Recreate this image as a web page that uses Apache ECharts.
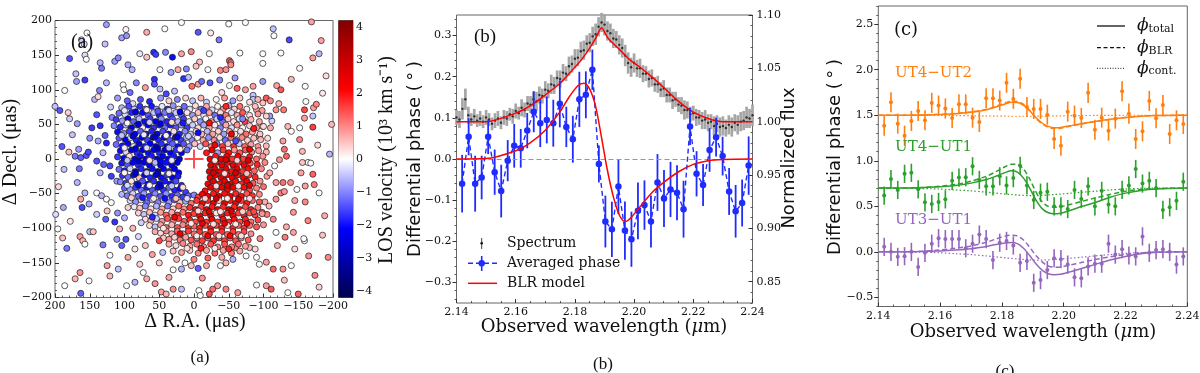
<!DOCTYPE html>
<html>
<head>
<meta charset="utf-8">
<script src="https://cdn.jsdelivr.net/npm/echarts@6/dist/echarts.min.js"></script>
<style>
html,body{margin:0;padding:0;background:#fff}
#chart{width:1200px;height:373px}
</style>
</head>
<body>
<div id="chart"></div>
<script>
// ---------------- panel (a): BLR cloud map ----------------
// [dRA (uas), dDecl (uas), LOS velocity (1e3 km/s)]
var cloudPoints = [
[126,194,-0.8],[98,187,0.1],[68,183,0.7],[42,188,0],[18,197,0],[-6,183,-1.4],[-24,182,0.2],[-36,172,-1.1],[-50,195,0],[-74,197,0],[-114,188,-0.5],[-115,178,0],[-137,172,-1.5],[-169,198,0.8],[-183,171,0.8],[154,182,0],[162,172,-0.4],[158,166,-0.3],[104,175,-0.8],[97,178,-0.9],[179,145,-1.4],[157,150,-0.3],[155,144,0],[128,166,-0.5],[170,123,-0.5],[169,112,-0.8],[157,114,-1.6],[135,139,-0.6],[114,141,-0.8],[109,146,-1.0],[78,152,-0.2],[68,147,0.5],[58,154,-1.7],[55,151,-1.6],[41,154,-1.0],[31,147,-2.0],[18,152,0.8],[4,155,1.0],[-8,140,0.5],[-22,152,0],[-51,142,1.4],[-53,139,1.0],[-66,153,0],[-99,152,0],[-99,138,0],[-125,153,0],[-180,152,-0.6],[-171,146,0.8],[-152,131,0],[133,131,-1.1],[95,136,-0.7],[89,129,-0.6],[49,129,0],[33,125,-0.8],[23,129,0.7],[11,130,-1.0],[-3,134,0.5],[-20,129,0],[-38,128,1.0],[-46,129,0.9],[-53,136,1.0],[186,99,0],[136,99,-1.0],[126,110,-0.6],[102,107,0],[101,100,0],[83,110,-1.0],[70,103,0.8],[57,115,-1.7],[57,108,-1.4],[49,101,-0.5],[15,116,-1.7],[8,118,-0.5],[3,105,1.2],[-6,108,0.8],[-11,112,-1.2],[-23,110,-1.4],[-37,114,-1.0],[-51,106,0],[-59,117,-0.8],[-74,100,0.8],[-62,102,1.3],[-99,112,-0.8],[-119,106,0.8],[-125,100,1.4],[-160,105,0],[-161,83,0],[-85,105,0.8],[-85,92,-0.5],[-40,96,0.3],[28,98,-0.5],[40,94,-1.5],[92,96,-1.2],
[200,76,-0.5],[193,70,-1.4],[181,67,0.4],[179,58,-0.4],[168,51,-0.8],[190,18,-1.4],[187,-15,-0.5],[180,10,0.5],[166,14,-0.8],[171,4,-1.1],[163,2,-1.3],[155,5,-1.4],[152,10,-1.5],[165,-14,-1.1],[168,-34,-0.6],[157,-49,-0.6],[163,-58,0.7],[161,-70,-1.5],[151,-65,-0.7],[188,-70,-0.7],[199,-80,-0.3],[196,-101,0],[189,-114,0.5],[183,-129,-1.1],[164,-112,0.8],[160,-118,0.6],[157,-123,0],[150,-105,-0.5],[145,-105,0.5],[186,-183,0],[171,-173,0.6],[164,-164,0.9],[151,-176,0],[163,-194,-1.3],[143,86,-0.6],[138,90,0.3],[140,64,-1.4],[147,45,-1.6],[135,48,-1.7],[128,34,-1.3],[138,26,-0.7],[126,23,-1.8],[131,9,-0.5],[140,-3,-1.4],[130,-8,-1.3],[121,-10,-1.5],[135,-20,-0.6],[119,-25,-1.6],[111,-32,-0.8],[140,-49,0],[133,-53,-0.6],[126,-58,0],[119,-63,0],[127,-87,-1.3],[114,-91,-1.7],[107,-101,0.6],[111,-116,-0.8],[104,-125,-1.3],[98,-116,-1.4],[95,-142,0.7],[121,-139,0],[131,-124,-1.1],[125,-154,0.8],[121,-169,0.6],[109,-159,-0.5],[97,-183,0],[85,-178,-0.6],[78,-152,0.4],[73,-164,0],[68,-173,0.7],[56,-180,0.9],[47,-192,0.8],[40,-195,0.6],[30,-188,0.9],[18,-188,-0.5],[36,-171,0.7],[30,-160,0],[18,-159,-0.6],[13,-150,0],[4,-154,0.5],[-6,-158,-1.3],[-18,-154,0.7],[-12,-172,0.9],[-7,-190,0],[-9,-197,0],[-22,-195,1.4],[-27,-188,1.2],[-34,-183,0.8],[-46,-188,1.0],[-63,-193,0.8],[-38,-154,0],[-46,-150,0.6],[-56,-145,-0.6],[-75,-140,0],[-90,-142,0],[-94,-152,0],[-104,-149,0.8],[-114,-159,1.2],[-128,-159,0.9],[-140,-154,0],[-90,-182,0],[-104,-183,0.8],[-111,-188,1.4],[-135,-193,0],[-150,-195,1.3],[-174,-168,1.0],[-193,-142,1.0],[-159,-118,0],[-143,-106,0.8],[-131,-113,1.1],[-118,-106,0],
[118,60,-1.0],[120,75,-0.4],[150,30,-0.9],[175,35,-0.5],[195,-40,0.3],[178,-90,0.2],[140,-80,-0.4],[125,-75,0.5],[110,-78,-0.9],[95,-70,0.4],[100,-85,-0.6],[88,-100,0.6],[80,-112,-0.3],[70,-125,0.5],[60,-138,0.8],[50,-150,0.4],[85,-130,0.2],[45,-135,-0.5],[25,-145,0.6],[0,-145,1.0],[-20,-143,1.3],[-40,-142,0.7],[-60,-128,1.0],[-80,-128,0.6],[-95,-115,1.0],[-88,-130,0.3],[-100,-95,0.9],[-105,-80,1.1],[-102,-62,0.7],[-100,-40,1.2],[-105,-25,0.8],[-102,-5,1.0],[-104,10,0.6],[-106,30,0.3],[-110,45,0.7],[-112,55,-0.4],
[-99,81,0.5],[-104,88,1.4],[-118,71,0.9],[-129,71,1.1],[-135,47,0.6],[-140,40,0],[-152,45,0],[-159,71,1.5],[-172,74,0.8],[-176,79,1.0],[-171,62,-0.5],[-171,46,1.6],[-159,59,0.8],[-198,50,0.6],[-195,7,-0.6],[-152,28,1.0],[-128,26,0.8],[-130,14,1.2],[-133,4,1.3],[-123,-1,0.9],[-116,-10,0],[-156,11,0.6],[-164,-5,0],[-168,-6,0],[-156,-5,0.5],[-154,-20,0.8],[-171,-22,1.3],[-173,-37,1.1],[-160,-39,0.8],[-180,-49,0],[-148,-44,0],[-139,-34,1.0],[-128,-34,1.2],[-118,-34,0.8],[-125,-49,1.1],[-130,-47,0.9],[-143,-77,0.9],[-164,-89,1.0],[-188,-82,0.7],[-158,-115,0],[-133,-98,0.7],[-114,-87,1.0],[-118,-58,0.9],[-108,-68,0.6],[-98,-77,1.1],[-109,-20,0.7],[-104,19,0.6],[-99,4,0.9],[-94,33,0.8],[-99,47,0],[-85,86,-0.5],[-109,62,-0.8],[-90,71,0.7],[-120,-125,0.6],[-145,-130,0.3],[-165,-140,0.9],[-130,-175,0.5],[-180,-185,0.4],[-185,-110,0.5],[-178,20,0.3],[-185,95,0.2],[-140,115,0.6],[-190,120,0.3],[-145,-60,0.7],[-160,-62,1.0],
[110,88,-0.8],[96,84,-1.3],[88,80,-0.3],[77,86,-1.4],[64,83,-1.8],[48,88,-0.8],[36,84,0.4],[24,86,-1.0],[12,88,0.3],[2,84,-0.5],[-10,88,0.6],[-18,82,-0.4],[-32,86,0.1],[-44,88,0.8],[-56,84,-0.8],[-66,88,0.4],[-80,82,0.2],[-92,86,0.6],[-110,84,1.0],[-122,80,0.6],
[104,74,-0.6],[94,76,-1.5],[86,72,-0.4],[78,76,-1.7],[70,72,-1.2],[61,76,-1.9],[54,72,-0.8],[46,76,-0.2],[38,72,-1.7],[30,77,-0.9],[22,72,0.3],[14,76,-1.2],[6,72,-0.3],[-2,77,0.3],[-10,72,-1.1],[-18,76,0.7],[-26,71,-0.3],[-34,76,0.1],[-42,72,0.9],[-50,77,-0.6],[-58,72,0.4],[-66,76,1.2],[-76,72,0.1],[-88,76,0.5],[-98,70,0.8],
[108,66,-1.2],[99,64,-0.3],[90,67,-1.8],[82,63,-1.0],[74,67,-2.0],[66,63,-1.4],[58,67,-0.5],[50,63,-1.9],[42,67,-1.1],[34,63,-1.6],[26,67,-0.4],[18,63,-1.3],[10,67,0.2],[2,63,-0.8],[-6,67,0.5],[-14,63,-0.3],[-22,67,0.8],[-30,63,-1.2],[-38,67,0.3],[-46,63,1.1],[-54,67,-0.2],[-62,63,0.7],[-70,67,1.4],[-80,63,0.3],[-92,65,0.9],[-104,62,0.4],
[112,57,-1.6],[103,55,-0.8],[95,58,-2.1],[87,54,-1.3],[79,58,-0.6],[71,54,-2.0],[63,58,-1.6],[55,54,-2.1],[47,58,-1.0],[39,54,-1.8],[31,58,-1.4],[23,54,-0.6],[15,58,-1.6],[7,54,-0.2],[-1,58,0.4],[-9,54,-0.9],[-17,58,0.1],[-25,54,0.9],[-33,58,-0.4],[-41,54,-1.2],[-49,58,0.5],[-57,54,0.3],[-65,58,-0.3],[-73,54,1.6],[-82,57,0.6],[-94,54,0.7],
[115,48,-1.0],[106,46,-1.8],[98,49,-0.6],[90,45,-2.1],[82,49,-1.5],[74,45,0.2],[66,49,-2.2],[58,45,-1.7],[50,49,-1.9],[42,45,-1.2],[34,49,-1.9],[26,45,-1.4],[18,49,-0.8],[10,45,-1.6],[2,49,-0.4],[-6,45,0.3],[-14,49,-0.7],[-22,45,0.8],[-30,49,0.2],[-38,45,-1.0],[-46,49,0.7],[-54,45,-0.3],[-62,49,0.9],[-70,45,0.1],[-80,48,0.4],[-90,45,0.8],[-100,47,0.3],
[110,39,-2.0],[101,37,-1.0],[93,40,-1.6],[85,36,-2.3],[77,40,-1.3],[69,36,-2.0],[61,40,-1.8],[53,36,-2.3],[45,40,-1.5],[37,36,-2.1],[29,40,0.3],[21,36,-1.8],[13,40,-1.0],[5,36,-0.5],[-3,40,0.3],[-11,36,0.6],[-19,40,-0.6],[-27,36,0.8],[-35,40,0.4],[-43,36,-0.8],[-51,40,0.9],[-59,36,0.2],[-67,40,0.3],[-75,36,1.2],[-84,39,0.7],[-95,36,0.5],
[108,30,-1.4],[99,28,-2.1],[91,31,-0.2],[83,27,-1.9],[75,31,-2.3],[67,27,-1.6],[59,31,-2.1],[51,27,-1.8],[43,31,-2.4],[35,27,-1.4],[27,31,-2.0],[19,27,-1.6],[11,31,-0.7],[3,27,-1.0],[-5,31,0.1],[-13,27,0.7],[-21,31,-0.9],[-29,27,1.0],[-37,31,0.3],[-45,27,-1.2],[-53,31,1.2],[-61,27,0.1],[-69,31,1.0],[-77,27,0.4],[-86,30,0.5],[-96,28,0.6],
[112,21,-1.2],[103,19,-1.9],[95,22,-2.2],[87,18,-0.2],[79,22,-2.4],[71,18,-1.9],[63,22,-2.1],[55,18,-2.5],[47,22,-1.7],[39,18,-2.2],[31,22,-1.3],[23,18,-2.0],[15,22,-1.4],[7,18,-0.8],[-1,22,0.5],[-9,18,-0.3],[-17,22,1.4],[-25,18,1.0],[-33,22,-1.0],[-41,18,1.6],[-49,22,0.5],[-57,18,1.7],[-65,22,-0.5],[-73,18,1.2],[-82,21,0.8],[-92,18,0.9],
[106,12,-2.0],[98,10,-0.3],[90,13,-2.3],[82,9,-1.8],[74,13,-2.5],[66,9,-2.0],[58,13,-2.3],[50,9,-1.8],[42,13,-2.5],[34,9,-2.1],[26,13,-1.7],[18,9,-2.3],[10,13,-1.2],[-18,9,1.9],[-26,13,2.2],[-34,9,-0.8],[-42,13,1.7],[-50,9,2.0],[-58,13,0.9],[-66,9,1.4],[-74,13,1.4],[-83,10,1.0],[-93,12,0.8],
[110,3,-1.6],[101,1,-2.2],[93,4,0.3],[85,0,-2.5],[77,4,-2.0],[69,0,-2.4],[61,4,-1.9],[53,0,-2.5],[45,4,-2.1],[37,0,-2.3],[29,4,-1.9],[21,0,-2.5],[-23,0,2.4],[-31,4,1.9],[-39,0,2.5],[-47,4,2.1],[-55,0,1.7],[-63,4,2.2],[-71,0,1.6],[-80,3,1.9],[-90,0,1.2],
[104,-6,-1.9],[96,-8,-1.4],[88,-5,-2.3],[80,-9,-1.8],[72,-5,-2.3],[64,-9,-2.1],[56,-5,-0.6],[48,-9,-2.5],[40,-5,-2.0],[32,-9,-2.3],[24,-5,-2.5],[-24,-9,2.5],[-32,-5,2.3],[-40,-9,2.5],[-48,-5,2.0],[-56,-9,2.3],[-64,-5,1.8],[-72,-9,2.1],[-81,-6,1.4],[-91,-8,1.8],
[108,-15,-1.2],[100,-17,-1.9],[92,-14,-0.4],[84,-18,-2.2],[76,-14,-1.8],[68,-18,-2.3],[60,-14,-2.0],[52,-18,-2.4],[44,-14,-2.1],[36,-18,-1.8],[28,-14,-2.3],[22,-20,-2.1],[-22,-18,2.5],[-30,-14,2.5],[-38,-18,2.2],[-46,-14,2.4],[-54,-18,2.0],[-62,-14,2.3],[-70,-18,1.7],[-78,-14,2.0],[-87,-17,1.3],[-97,-14,1.0],
[103,-24,-1.7],[95,-26,-1.2],[87,-23,-2.0],[79,-27,0.5],[71,-23,-2.1],[63,-27,-1.8],[55,-23,-2.3],[47,-27,-2.0],[39,-23,-1.6],[31,-27,-2.2],[23,-25,-1.9],[-23,-27,2.3],[-31,-23,2.1],[-39,-27,2.5],[-47,-23,2.1],[-55,-27,2.3],[-63,-23,1.9],[-71,-27,2.1],[-79,-23,1.6],[-88,-26,1.8],
[106,-33,-1.0],[98,-35,-1.6],[90,-32,0.2],[82,-36,-2.0],[74,-32,-1.4],[66,-36,-2.1],[58,-32,-1.7],[50,-36,-2.2],[42,-32,-1.9],[34,-36,-2.0],[26,-32,-1.5],[18,-38,-1.8],[-20,-36,2.1],[-28,-32,2.4],[-36,-36,2.0],[-44,-32,2.3],[-52,-36,2.5],[-60,-32,2.0],[-68,-36,1.8],[-76,-32,2.1],[-85,-35,1.4],[-95,-32,0.9],
[100,-42,-1.3],[92,-44,-0.8],[84,-41,-1.6],[76,-45,-1.2],[68,-41,-1.9],[60,-45,-1.4],[52,-41,-2.0],[44,-45,-1.7],[36,-41,-1.2],[28,-45,-1.8],[20,-43,-2.0],[12,-48,-1.6],[-16,-46,2.0],[-24,-41,2.3],[-32,-45,1.8],[-40,-41,2.4],[-48,-45,2.1],[-56,-41,2.3],[-64,-45,0.6],[-72,-41,2.0],[-80,-45,1.5],[-90,-42,1.0],
[104,-51,-0.6],[96,-53,-1.1],[88,-50,-0.4],[80,-54,-1.3],[72,-50,-0.8],[64,-54,-1.6],[56,-50,-1.0],[48,-54,-1.4],[40,-50,-0.9],[32,-54,-1.7],[24,-52,-1.2],[16,-55,-1.6],[8,-53,-1.3],[0,-52,-1.0],[-6,-55,1.6],[-12,-51,2.1],[-20,-54,2.3],[-28,-50,1.9],[-36,-54,2.5],[-44,-50,2.0],[-52,-54,2.2],[-60,-50,1.8],[-68,-54,2.0],[-76,-50,1.4],[-84,-53,1.7],[-94,-51,1.0],
[92,-60,-0.3],[84,-62,-0.9],[76,-59,0.2],[68,-63,-1.2],[60,-59,-0.5],[52,-63,-1.0],[44,-59,0.3],[36,-63,-0.8],[28,-59,-1.3],[20,-63,0.5],[12,-61,-0.7],[4,-64,1.2],[-4,-60,1.7],[-12,-64,2.1],[-20,-60,1.8],[-28,-64,2.3],[-36,-60,0.5],[-44,-64,2.3],[-52,-60,1.9],[-60,-64,2.1],[-68,-60,1.6],[-76,-64,1.9],[-84,-60,1.2],[-94,-62,1.4],
[86,-69,-0.2],[78,-71,0.5],[70,-68,-1.0],[62,-72,0.3],[54,-68,-0.6],[46,-72,0.7],[38,-68,-1.1],[30,-72,0.4],[22,-68,1.3],[14,-72,0.9],[6,-70,1.7],[-2,-73,2.0],[-10,-69,1.6],[-18,-73,2.2],[-26,-69,1.9],[-34,-73,2.1],[-42,-69,1.8],[-50,-73,2.3],[-58,-69,1.8],[-66,-73,2.0],[-74,-69,1.5],[-82,-73,1.8],[-92,-70,1.0],
[80,-78,0.4],[72,-80,-0.5],[64,-77,0.6],[56,-81,-0.3],[48,-77,0.8],[40,-81,1.3],[32,-77,0.7],[24,-81,1.7],[16,-77,1.2],[8,-81,1.9],[0,-79,1.6],[-8,-82,2.1],[-16,-78,1.8],[-24,-82,2.2],[-32,-78,0.2],[-40,-82,2.0],[-48,-78,1.9],[-56,-82,2.1],[-64,-78,1.6],[-72,-82,1.9],[-80,-78,1.4],[-88,-81,1.6],[-98,-79,0.9],
[70,-87,0.3],[62,-89,0.7],[54,-86,-0.4],[46,-90,0.9],[38,-86,1.4],[30,-90,1.0],[22,-86,1.6],[14,-90,1.3],[6,-88,1.8],[-2,-91,1.5],[-10,-87,2.0],[-18,-91,1.7],[-26,-87,2.1],[-34,-91,1.6],[-42,-87,2.0],[-50,-91,1.8],[-58,-87,2.0],[-66,-91,1.5],[-74,-87,1.8],[-82,-91,1.2],[-92,-88,1.5],
[64,-96,0.3],[56,-98,-0.5],[48,-95,0.8],[40,-99,1.2],[32,-95,0.6],[24,-99,1.4],[16,-95,1.0],[8,-99,1.7],[0,-97,1.3],[-8,-100,1.8],[-16,-96,1.4],[-24,-100,2.0],[-32,-96,1.6],[-40,-100,1.9],[-48,-96,0.3],[-56,-100,1.8],[-64,-96,1.3],[-72,-100,1.6],[-80,-96,1.1],[-90,-98,1.4],
[56,-105,0.7],[48,-107,0.3],[40,-104,1.0],[32,-108,0.7],[24,-104,1.3],[16,-108,0.9],[8,-104,1.6],[0,-108,1.2],[-8,-105,1.7],[-16,-109,1.3],[-24,-105,1.8],[-32,-109,1.4],[-40,-105,1.7],[-48,-109,1.3],[-56,-105,1.6],[-64,-109,1.2],[-72,-105,1.5],[-82,-108,1.0],
[44,-114,0.5],[36,-116,0.9],[28,-113,0.4],[20,-117,1.1],[12,-113,0.8],[4,-117,1.4],[-4,-114,1.0],[-12,-118,1.6],[-20,-114,1.2],[-28,-118,1.7],[-36,-114,1.3],[-44,-118,1.6],[-52,-114,1.1],[-60,-118,1.4],[-68,-114,1.0],[-78,-117,1.3],
[36,-123,0.7],[26,-125,0.3],[16,-122,1.0],[6,-126,0.7],[-4,-123,1.2],[-14,-127,0.9],[-24,-123,1.4],[-34,-127,1.0],[-44,-123,1.4],[-54,-127,1.0],[-64,-123,1.2],[-74,-126,0.8],
[30,-133,0.5],[18,-135,0.8],[6,-132,0.4],[-6,-136,1.0],[-18,-132,0.7],[-30,-136,1.2],[-42,-132,0.8],[-54,-136,1.1],[-66,-133,0.7],
[100,70,-0.2],[84,68,-2.3],[68,71,0.2],[52,69,-1.4],[36,70,-0.3],[20,68,-2.2],
[96,52,0.1],[80,50,-2.6],[64,53,-0.4],[48,51,-2.3],[32,53,0.3],[16,52,-1.9],
[104,34,-0.5],[88,33,-2.6],[72,35,-0.2],[56,32,-2.7],[40,34,0.1],[24,32,-2.4],[8,33,-0.4],
[100,16,0.2],[84,15,-2.6],[68,16,-0.3],[52,15,-2.8],[36,16,-0.6],[20,14,0.2],
[96,-2,-0.5],[80,-3,-2.7],[64,-2,0.3],[48,-3,-2.2],[32,-2,-0.2],
[100,-20,0.1],[84,-21,-2.6],[68,-20,-0.4],[52,-21,-2.8],[36,-21,0.2],
[96,-38,-0.3],[80,-38,-2.4],[64,-38,0.1],[48,-39,-2.6],[32,-39,-0.5],[16,-41,0.3],
[90,-56,0.4],[74,-56,-1.9],[58,-57,0.2],[42,-57,-2.0],[26,-57,0.5],[10,-57,-0.3],
[-30,-2,0.2],[-46,-1,2.7],[-62,-2,0.4],[-78,-2,2.6],
[-28,-20,2.8],[-44,-21,0.3],[-60,-20,2.9],[-76,-21,0.5],
[-32,-39,0.3],[-48,-38,2.8],[-64,-39,0.2],[-80,-38,2.5],
[-16,-57,0.4],[-32,-57,2.8],[-48,-57,0.2],[-64,-58,2.7],[-80,-57,0.3],
[-6,-75,0.3],[-22,-76,2.6],[-38,-76,0.2],[-54,-75,2.7],[-70,-76,0.4],[-86,-76,1.5],
[4,-93,0.2],[-12,-93,2.5],[-28,-94,0.3],[-44,-93,2.4],[-60,-94,0.2],[-76,-93,2.2],
[-4,-111,0.2],[-20,-111,2.2],[-36,-111,0.3],[-52,-111,2.1],[-68,-111,0.3],
[10,-129,0.3],[-10,-129,1.9],[-30,-129,0.2],[-50,-130,1.8],
[-6,38,-2.0],[-22,52,2.0],[-38,60,-1.8],[-54,36,2.2],[-70,58,-1.0],[-86,44,1.9],[-14,70,-1.6],[-46,76,1.8],[-30,20,2.3],[-60,26,-1.5],[-80,14,2.4],
[60,-84,-1.8],[44,-100,0.2],[28,-84,2.3],[76,-92,-0.4],[50,-118,1.5],[20,-108,2.4]
];
var centerMark = [[0, 0]];
var velRange = [-4.2, 4.2];
var velTicks = [-4, -3, -2, -1, 0, 1, 2, 3, 4];
var seismic = ['#00004d', '#0000ff', '#ffffff', '#ff0000', '#800000'];

// ---------------- panel (b): spectrum + averaged phase ----------------
var specWave = [2.140,2.141,2.142,2.143,2.144,2.145,2.146,2.147,2.148,2.149,2.150,2.151,2.152,2.153,2.154,2.155,2.156,2.157,2.158,2.159,
2.160,2.161,2.162,2.163,2.164,2.165,2.166,2.167,2.168,2.169,2.170,2.171,2.172,2.173,2.174,2.175,2.176,2.177,2.178,2.179,
2.180,2.181,2.182,2.183,2.184,2.185,2.186,2.187,2.188,2.189,2.190,2.191,2.192,2.193,2.194,2.195,2.196,2.197,2.198,2.199,
2.200,2.201,2.202,2.203,2.204,2.205,2.206,2.207,2.208,2.209,2.210,2.211,2.212,2.213,2.214,2.215,2.216,2.217,2.218,2.219,
2.220,2.221,2.222,2.223,2.224,2.225,2.226,2.227,2.228,2.229,2.230,2.231,2.232,2.233,2.234,2.235,2.236,2.237,2.238,2.239,2.240];
var specFlux = [1.004,1.002,1.012,1.021,1.006,1.002,1.005,1.001,1.003,1.000,1.004,1.002,0.998,1.001,1.003,0.999,1.004,1.003,1.007,1.005,
1.010,1.008,1.013,1.011,1.017,1.016,1.021,1.019,1.025,1.024,1.030,1.029,1.035,1.034,1.041,1.040,1.046,1.045,1.052,1.054,
1.059,1.060,1.066,1.067,1.073,1.074,1.080,1.082,1.089,1.093,1.091,1.085,1.083,1.078,1.077,1.072,1.069,1.062,1.055,1.051,
1.055,1.050,1.050,1.045,1.045,1.040,1.041,1.035,1.035,1.030,1.031,1.025,1.025,1.020,1.021,1.016,1.015,1.011,1.011,1.007,
1.008,1.004,1.004,1.001,1.002,0.999,1.000,0.996,0.998,0.995,0.996,0.994,0.997,0.995,0.999,0.997,1.000,1.001,1.004,1.003,1.006];
var specErr = [0.007,0.008,0.010,0.010,0.008,0.006,0.007,0.006,0.007,0.006,0.007,0.006,0.006,0.007,0.007,0.006,0.007,0.007,0.006,0.007,
0.007,0.006,0.008,0.007,0.007,0.008,0.007,0.009,0.008,0.007,0.008,0.007,0.009,0.008,0.007,0.008,0.008,0.007,0.009,0.008,
0.009,0.008,0.009,0.009,0.008,0.009,0.009,0.010,0.009,0.009,0.010,0.009,0.009,0.009,0.008,0.009,0.009,0.010,0.010,0.009,
0.009,0.008,0.009,0.008,0.007,0.008,0.008,0.007,0.008,0.007,0.008,0.007,0.007,0.008,0.007,0.007,0.008,0.009,0.008,0.007,
0.007,0.008,0.007,0.008,0.009,0.008,0.007,0.009,0.008,0.009,0.009,0.008,0.009,0.009,0.008,0.009,0.009,0.009,0.010,0.009,0.010];

var phaseWave = [2.1419,2.1441,2.1463,2.1485,2.1507,2.1529,2.1551,2.1573,2.1595,2.1617,2.1639,2.1661,2.1683,2.1705,2.1727,
2.1749,2.1771,2.1793,2.1815,2.1837,2.1859,2.1881,2.1903,2.1925,2.1947,2.1969,2.1991,2.2013,2.2035,2.2057,
2.2079,2.2101,2.2123,2.2145,2.2167,2.2189,2.2211,2.2233,2.2255,2.2277,2.2299,2.2321,2.2343,2.2365,2.2387];
var phaseAvg = [-0.060,0.054,-0.060,-0.045,0.054,-0.032,-0.078,-0.004,0.032,0.026,0.069,0.115,0.087,0.095,0.087,
0.134,0.078,0.048,0.145,0.156,0.217,-0.012,-0.152,-0.171,-0.067,-0.174,-0.195,-0.126,-0.112,-0.152,
-0.057,-0.096,-0.074,-0.082,-0.122,0.079,-0.036,-0.063,0.022,0.053,0.007,-0.079,-0.127,-0.107,-0.016];
var phaseErr = [0.070,0.045,0.068,0.053,0.042,0.055,0.064,0.050,0.053,0.047,0.043,0.050,0.058,0.057,0.057,
0.057,0.049,0.057,0.067,0.057,0.049,0.045,0.063,0.067,0.067,0.071,0.067,0.069,0.060,0.063,
0.069,0.069,0.067,0.067,0.069,0.045,0.055,0.051,0.053,0.047,0.047,0.057,0.064,0.057,0.071];

var modelWave = [2.140,2.150,2.160,2.165,2.170,2.175,2.178,2.181,2.183,2.185,2.187,2.189,2.191,2.193,2.195,2.197,2.199,2.202,2.206,2.210,2.215,2.220,2.225,2.230,2.240];
var blrPhase = [0,0.001,0.02,0.04,0.07,0.115,0.15,0.178,0.184,0.17,0.128,0.052,-0.028,-0.092,-0.136,-0.152,-0.142,-0.116,-0.082,-0.057,-0.031,-0.013,-0.004,-0.001,0];
var blrFlux = [1.0,1.0,1.008,1.015,1.025,1.036,1.045,1.054,1.061,1.069,1.078,1.088,1.079,1.073,1.068,1.062,1.057,1.051,1.042,1.032,1.019,1.009,1.003,1.0,1.0];

var phaseTicksB = [-0.3,-0.2,-0.1,0,0.1,0.2,0.3];
var fluxTicks = [0.85,0.90,0.95,1.00,1.05,1.10];

// ---------------- panel (c): per-baseline phases ----------------
var ut42Obs = [1.386,1.643,1.408,1.276,1.438,1.548,1.445,1.636,1.607,1.574,1.471,1.621,1.62,1.474,1.426,1.688,1.688,1.662,1.857,1.68,1.90,1.59,1.57,1.57,1.507,1.239,1.165,1.54,1.496,1.47,1.746,1.342,1.474,1.331,1.463,1.765,1.518,1.239,1.324,1.658,1.467,1.614,1.294,1.445,1.404];
var ut41Obs = [0.618,0.80,0.68,0.857,0.868,0.687,0.544,0.526,0.548,0.577,0.78,0.816,0.82,0.94,0.79,0.72,0.72,0.83,0.73,0.81,0.945,0.73,0.57,0.65,0.66,0.50,0.50,0.47,0.68,0.58,0.72,0.50,0.67,0.52,0.50,0.68,0.73,0.91,0.75,0.78,0.70,0.46,0.49,0.56,0.77];
var ut31Obs = [0.055,0.0,-0.055,-0.048,0.0,-0.165,-0.01,0.09,0.15,0.14,0.14,0.14,0.04,0.09,0.19,0.14,-0.09,0.10,0.12,0.07,-0.12,-0.10,-0.34,-0.31,-0.2,-0.07,-0.08,-0.14,-0.28,-0.29,-0.16,-0.13,-0.13,0.09,-0.03,0.03,-0.04,-0.05,0.17,-0.01,0.02,0.03,0.0,-0.14,-0.05];
var obsErrC = [0.11, 0.10, 0.10];

var ut42Total = [1.5,1.501,1.508,1.518,1.532,1.56,1.59,1.624,1.642,1.64,1.61,1.55,1.475,1.415,1.378,1.364,1.366,1.385,1.41,1.432,1.456,1.476,1.49,1.497,1.5];
var ut42Blr   = [1.5,1.501,1.51,1.52,1.536,1.566,1.598,1.635,1.655,1.652,1.62,1.555,1.47,1.405,1.368,1.354,1.357,1.378,1.405,1.428,1.453,1.475,1.489,1.497,1.5];
var ut42Cont  = [1.5,1.5,1.498,1.497,1.495,1.493,1.491,1.49,1.489,1.489,1.489,1.489,1.49,1.491,1.492,1.493,1.494,1.495,1.497,1.498,1.499,1.5,1.5,1.5,1.5];
var ut41Total = [0.7,0.702,0.715,0.73,0.755,0.795,0.83,0.87,0.89,0.875,0.81,0.70,0.57,0.475,0.43,0.418,0.425,0.455,0.5,0.54,0.6,0.645,0.675,0.69,0.7];
var ut41Blr   = [0.7,0.702,0.72,0.74,0.775,0.83,0.88,0.935,0.962,0.96,0.91,0.8,0.66,0.55,0.5,0.49,0.495,0.52,0.555,0.59,0.63,0.665,0.685,0.695,0.7];
var ut41Cont  = [0.7,0.698,0.69,0.68,0.67,0.655,0.645,0.635,0.63,0.625,0.62,0.618,0.618,0.62,0.625,0.63,0.635,0.643,0.655,0.665,0.68,0.69,0.697,0.7,0.7];
var ut31Total = [0,0.0,0.01,0.02,0.035,0.06,0.08,0.098,0.103,0.09,0.04,-0.04,-0.13,-0.2,-0.24,-0.25,-0.245,-0.22,-0.18,-0.14,-0.09,-0.05,-0.02,-0.005,0];
var ut31Blr   = [0,0.002,0.02,0.04,0.065,0.105,0.14,0.172,0.184,0.175,0.13,0.05,-0.04,-0.11,-0.155,-0.168,-0.165,-0.145,-0.115,-0.085,-0.055,-0.03,-0.012,-0.004,0];
var ut31Cont  = [0,-0.002,-0.01,-0.02,-0.03,-0.045,-0.055,-0.065,-0.072,-0.078,-0.083,-0.087,-0.09,-0.09,-0.088,-0.083,-0.078,-0.07,-0.058,-0.045,-0.03,-0.017,-0.008,-0.003,0];

var phaseTicksC = [-0.5,0,0.5,1.0,1.5,2.0,2.5];
var baseNames = ['UT4\u2212UT2', 'UT4\u2212UT1', 'UT3\u2212UT1'];
var baseColors = ['#ff7f0e', '#2ca02c', '#9467bd'];

// ---------------- helpers ----------------
var SERIF = 'DejaVu Serif';
var SPINE = '#666';
var NOLINE = {show: false, onZero: false};

function zip(xs, ys) {
    return xs.map(function (x, i) { return [x, ys[i]]; });
}
function zip3(xs, ys, es) {
    return xs.map(function (x, i) { return [x, ys[i], typeof es === 'number' ? es : es[i]]; });
}
function minus(s) { return String(s).replace('-', '\u2212'); }
function steps(min, max, step) {
    var out = [];
    var v = Math.ceil(min / step - 1e-6) * step;
    for (; v <= max + 1e-6; v += step) out.push(+v.toFixed(4));
    return out;
}

// two overlapping y axes: majors with labels, minors short ticks
function yPair(grid, pos, min, max, majors, minorStep, fmt, inside, margin) {
    var base = {
        type: 'value', gridIndex: grid, position: pos, min: min, max: max,
        splitLine: {show: false}, axisLine: NOLINE, minorTick: {show: false}
    };
    var major = echarts.util.merge({
        axisTick: {show: true, inside: inside, length: 4, customValues: majors, lineStyle: {color: '#333', width: 1}},
        axisLabel: {customValues: majors, formatter: fmt, fontFamily: SERIF, fontSize: 11, color: '#111', margin: margin, hideOverlap: false}
    }, base, true);
    var minor = echarts.util.merge({
        axisTick: {show: true, inside: inside, length: 2, customValues: steps(min, max, minorStep), lineStyle: {color: '#333', width: 0.8}},
        axisLabel: {show: false}
    }, base, true);
    return [major, minor];
}

function xWave(grid, margin) {
    return {
        type: 'value', gridIndex: grid, min: 2.14, max: 2.24, interval: 0.02,
        splitLine: {show: false}, axisLine: NOLINE,
        axisTick: {show: true, inside: true, length: 4, lineStyle: {color: '#333'}},
        minorTick: {show: true, splitNumber: 4, length: 2, lineStyle: {color: '#333', width: 0.8}},
        axisLabel: {formatter: function (v) { return v.toFixed(2); }, fontFamily: SERIF, fontSize: 11, color: '#111', margin: margin,
            showMinLabel: true, showMaxLabel: true, hideOverlap: false}
    };
}

function errRender(color, lw, r) {
    return function (params, api) {
        var x = api.value(0), y = api.value(1), e = api.value(2);
        var lo = api.coord([x, y - e]), hi = api.coord([x, y + e]);
        var kids = [{type: 'line', shape: {x1: lo[0], y1: lo[1], x2: hi[0], y2: hi[1]}, style: {stroke: color, lineWidth: lw}}];
        if (r) {
            var c = api.coord([x, y]);
            kids.push({type: 'circle', shape: {cx: c[0], cy: c[1], r: r}, style: {fill: color}});
        }
        return {type: 'group', children: kids};
    };
}

// ---------------- axes ----------------
var xAxes = [
    {
        type: 'value', gridIndex: 0, min: -200, max: 200, interval: 50, inverse: true,
        splitLine: {show: false}, axisLine: NOLINE,
        axisTick: {show: true, inside: true, length: 4, lineStyle: {color: '#333'}},
        minorTick: {show: true, splitNumber: 5, length: 2, lineStyle: {color: '#333', width: 0.8}},
        axisLabel: {formatter: minus, fontFamily: SERIF, fontSize: 11, color: '#111', margin: 3, showMinLabel: true, showMaxLabel: true, hideOverlap: false}
    },
    {type: 'value', gridIndex: 1, min: 0, max: 1, show: false, axisLine: NOLINE},
    xWave(2, 4),
    xWave(3, 4)
];

var yAxes = [
    {
        type: 'value', gridIndex: 0, min: -200, max: 200, interval: 50,
        splitLine: {show: false}, axisLine: NOLINE,
        axisTick: {show: true, inside: true, length: 4, lineStyle: {color: '#333'}},
        minorTick: {show: true, splitNumber: 5, length: 2, lineStyle: {color: '#333', width: 0.8}},
        axisLabel: {formatter: minus, fontFamily: SERIF, fontSize: 11, color: '#111', margin: 3, showMinLabel: true, showMaxLabel: true, hideOverlap: false}
    }
];
yAxes = yAxes.concat(
    yPair(1, 'right', velRange[0], velRange[1], velTicks, 0.2, minus, true, 3),                                      // 1,2
    yPair(2, 'left', -0.35, 0.35, phaseTicksB, 0.02, function (v) { return minus(v.toFixed(1)); }, false, 5),      // 3,4
    yPair(2, 'right', 0.83, 1.10, fluxTicks, 0.01, function (v) { return v.toFixed(2); }, true, 4),               // 5,6
    yPair(3, 'left', -0.6, 2.7, phaseTicksC, 0.1, function (v) { return minus(v.toFixed(1)); }, false, 5)          // 7,8
);

// ---------------- series ----------------
var series = [
    {
        type: 'scatter', xAxisIndex: 0, yAxisIndex: 0, data: cloudPoints, symbolSize: 6.1,
        itemStyle: {borderColor: '#1a1a1a', borderWidth: 0.7, opacity: 1}, z: 2
    },
    {
        type: 'scatter', xAxisIndex: 0, yAxisIndex: 0, data: centerMark, z: 5,
        symbol: 'path://M9,0H11V9H20V11H11V20H9V11H0V9H9Z', symbolSize: 19,
        itemStyle: {color: '#ff1a1a'}
    },
    {
        type: 'custom', xAxisIndex: 1, yAxisIndex: 1, data: [[0, velRange[0], 1, velRange[1]]],
        encode: {x: [0, 2], y: [1, 3]},
        renderItem: function (params, api) {
            var p1 = api.coord([api.value(0), api.value(3)]);
            var p2 = api.coord([api.value(2), api.value(1)]);
            return {
                type: 'rect', shape: {x: p1[0], y: p1[1], width: p2[0] - p1[0], height: p2[1] - p1[1]},
                style: {fill: new echarts.graphic.LinearGradient(0, 0, 0, 1, [
                    {offset: 0, color: seismic[4]}, {offset: 0.25, color: seismic[3]}, {offset: 0.5, color: seismic[2]},
                    {offset: 0.75, color: seismic[1]}, {offset: 1, color: seismic[0]}])}
            };
        }
    },
    // panel (b)
    {
        type: 'custom', xAxisIndex: 2, yAxisIndex: 5, data: zip3(specWave, specFlux, specErr),
        encode: {x: 0, y: 1}, renderItem: errRender('#a6a6a6', 2.7, 0), z: 1
    },
    {
        type: 'scatter', xAxisIndex: 2, yAxisIndex: 5, data: zip(specWave, specFlux),
        symbolSize: 2.4, itemStyle: {color: '#111'}, z: 2
    },
    {
        type: 'line', xAxisIndex: 2, yAxisIndex: 5, data: zip(modelWave, blrFlux), smooth: 0.25,
        showSymbol: false, lineStyle: {color: '#ff0000', width: 1.5}, z: 3
    },
    {
        type: 'custom', xAxisIndex: 2, yAxisIndex: 3, data: zip3(phaseWave, phaseAvg, phaseErr),
        encode: {x: 0, y: 1}, renderItem: errRender('#1f2cff', 1.8, 0), z: 4,
        markLine: {
            silent: true, symbol: 'none', label: {show: false},
            lineStyle: {color: '#999', type: [5, 3], width: 1},
            data: [{yAxis: 0}]
        }
    },
    {
        type: 'line', xAxisIndex: 2, yAxisIndex: 3, data: zip(phaseWave, phaseAvg),
        symbol: 'circle', symbolSize: 6.5, itemStyle: {color: '#1f2cff'},
        lineStyle: {color: '#1f2cff', width: 1.4, type: [5, 3]}, z: 5
    },
    {
        type: 'line', xAxisIndex: 2, yAxisIndex: 3, data: zip(modelWave, blrPhase), smooth: 0.3,
        showSymbol: false, lineStyle: {color: '#ff0000', width: 1.5}, z: 6
    }
];

// panel (c)
var obsC = [ut42Obs, ut41Obs, ut31Obs];
var modC = [[ut42Total, ut42Blr, ut42Cont], [ut41Total, ut41Blr, ut41Cont], [ut31Total, ut31Blr, ut31Cont]];
var dashC = ['solid', [5, 3], [1.5, 2.2]];
for (var b = 0; b < 3; b++) {
    series.push({
        type: 'custom', xAxisIndex: 3, yAxisIndex: 7, data: zip3(phaseWave, obsC[b], obsErrC[b]),
        encode: {x: 0, y: 1}, renderItem: errRender(baseColors[b], 1.6, 2.0), z: 3
    });
    for (var k = 0; k < 3; k++) {
        series.push({
            type: 'line', xAxisIndex: 3, yAxisIndex: 7, data: zip(modelWave, modC[b][k]), smooth: 0.3,
            showSymbol: false, lineStyle: {color: baseColors[b], width: k === 2 ? 1.2 : 1.5, type: dashC[k]}, z: 4
        });
    }
}

// ---------------- texts & legends ----------------
function txt(x, y, text, font, opt) {
    opt = opt || {};
    return {
        type: 'text', x: x, y: y, rotation: opt.rot || 0, z: 100,
        style: {
            text: text, font: font, fill: opt.color || '#111',
            textAlign: opt.align || 'center', textVerticalAlign: 'middle', rich: opt.rich
        }
    };
}
var waveRich = {i: {fontFamily: SERIF, fontStyle: 'italic', fontSize: 18, fill: '#111'}};
var phiRich = {
    p: {fontFamily: SERIF, fontStyle: 'italic', fontSize: 17, fill: '#111'},
    s: {fontFamily: SERIF, fontSize: 11, fill: '#111', verticalAlign: 'bottom'}
};
var R90 = Math.PI / 2;

var graphics = [
    txt(11, 152, 'Δ Decl. (μas)', '20px "Liberation Serif"', {rot: R90}),
    txt(195, 322, 'Δ R.A. (μas)', '20px "Liberation Serif"'),
    txt(387, 160, 'LOS velocity (10³ km s⁻¹)', '20px "Liberation Serif"', {rot: R90}),
    txt(82, 43, '(a)', '20px "Liberation Serif"'),
    txt(200, 358, '(a)', '17px "Liberation Serif"'),

    txt(415, 159, 'Differential phase (\u2009°\u2009)', '18px "DejaVu Sans"', {rot: R90}),
    txt(789, 158, 'Normalized flux', '18px "DejaVu Sans"', {rot: R90}),
    txt(604, 327, 'Observed wavelength ({i|μ}m)', '18px "DejaVu Serif"', {rich: waveRich}),
    txt(485, 37, '(b)', '19px "Liberation Serif"'),
    txt(603, 365, '(b)', '17px "Liberation Serif"'),

    txt(835, 157, 'Differential phase (\u2009°\u2009)', '18px "DejaVu Sans"', {rot: R90}),
    txt(1033, 332, 'Observed wavelength ({i|μ}m)', '18px "DejaVu Serif"', {rich: waveRich}),
    txt(906, 30, '(c)', '18px "DejaVu Serif"'),
    txt(1005, 372, '(c)', '17px "Liberation Serif"'),
    txt(895, 73, baseNames[0], '15px "DejaVu Serif"', {align: 'left', color: baseColors[0]}),
    txt(895, 147, baseNames[1], '15px "DejaVu Serif"', {align: 'left', color: baseColors[1]}),
    txt(895, 220, baseNames[2], '15px "DejaVu Serif"', {align: 'left', color: baseColors[2]}),

    // legend (b)
    {type: 'line', shape: {x1: 481.7, y1: 238, x2: 481.7, y2: 249}, style: {stroke: '#444', lineWidth: 1}, z: 100},
    {type: 'circle', shape: {cx: 481.7, cy: 243.3, r: 1.3}, style: {fill: '#111'}, z: 100},
    {type: 'line', shape: {x1: 468, y1: 263.3, x2: 497, y2: 263.3}, style: {stroke: '#1f2cff', lineWidth: 1.4, lineDash: [5, 3]}, z: 100},
    {type: 'line', shape: {x1: 481.7, y1: 256, x2: 481.7, y2: 271}, style: {stroke: '#1f2cff', lineWidth: 1.6}, z: 100},
    {type: 'circle', shape: {cx: 481.7, cy: 263.3, r: 3.2}, style: {fill: '#1f2cff'}, z: 100},
    {type: 'line', shape: {x1: 468, y1: 283.3, x2: 497, y2: 283.3}, style: {stroke: '#ff0000', lineWidth: 1.5}, z: 100},
    txt(507, 243.3, 'Spectrum', '14px "DejaVu Serif"', {align: 'left'}),
    txt(507, 263.3, 'Averaged phase', '14px "DejaVu Serif"', {align: 'left'}),
    txt(507, 283.3, 'BLR model', '14px "DejaVu Serif"', {align: 'left'}),

    // legend (c)
    {type: 'line', shape: {x1: 1097, y1: 26, x2: 1125, y2: 26}, style: {stroke: '#111', lineWidth: 1.3}, z: 100},
    {type: 'line', shape: {x1: 1097, y1: 47.7, x2: 1125, y2: 47.7}, style: {stroke: '#111', lineWidth: 1.3, lineDash: [4, 2.5]}, z: 100},
    {type: 'line', shape: {x1: 1097, y1: 68.3, x2: 1125, y2: 68.3}, style: {stroke: '#111', lineWidth: 1, lineDash: [1, 1.6]}, z: 100},
    txt(1137, 26, '{p|\u03D5}{s|total}', '17px "DejaVu Serif"', {align: 'left', rich: phiRich}),
    txt(1137, 47.7, '{p|\u03D5}{s|BLR}', '17px "DejaVu Serif"', {align: 'left', rich: phiRich}),
    txt(1137, 68.3, '{p|\u03D5}{s|cont.}', '17px "DejaVu Serif"', {align: 'left', rich: phiRich})
];

var gridBase = {show: true, borderColor: SPINE, borderWidth: 1, backgroundColor: 'transparent', containLabel: false, outerBoundsMode: 'none'};
function g(l, t, w, h) { return echarts.util.extend({left: l, top: t, width: w, height: h}, gridBase); }

var chart = echarts.init(document.getElementById('chart'), null, {renderer: 'canvas'});
chart.setOption({
    animation: false,
    backgroundColor: '#fff',
    grid: [g(55, 20.5, 278, 277), g(338.5, 20.5, 14.5, 277), g(456.5, 15, 296, 288), g(878.3, 6, 309, 300.5)],
    xAxis: xAxes,
    yAxis: yAxes,
    visualMap: [{
        type: 'continuous', show: false, seriesIndex: 0, dimension: 2,
        min: velRange[0], max: velRange[1], inRange: {color: seismic}
    }],
    series: series,
    graphic: graphics
});
</script>
</body>
</html>
